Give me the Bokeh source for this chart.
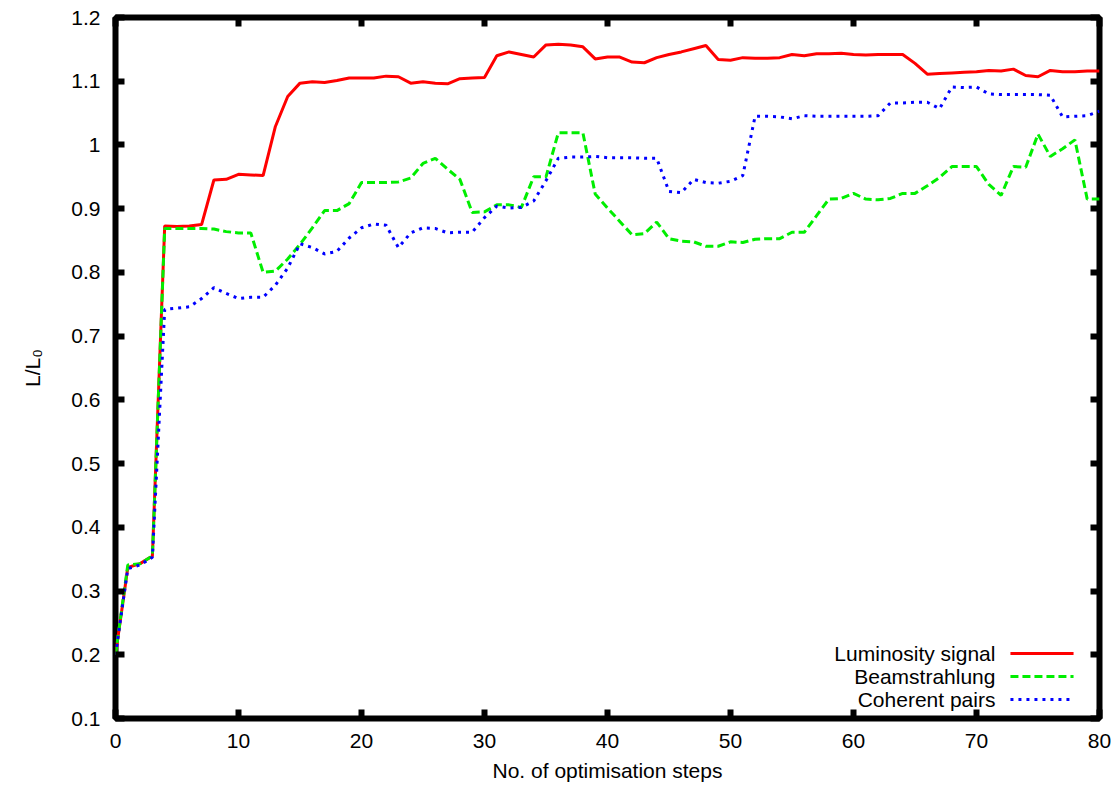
from bokeh.plotting import figure
from bokeh.models import Range1d, FixedTicker, LinearAxis, CustomJSTickFormatter, Label
from bokeh.embed import file_html
from bokeh.resources import INLINE

# ---------------- data ----------------
steps = list(range(81))

luminosity = [0.200, 0.337, 0.343, 0.355, 0.873, 0.872, 0.873, 0.875, 0.945, 0.946,
              0.954, 0.953, 0.952, 1.029, 1.076, 1.097, 1.099, 1.098, 1.101, 1.105,
              1.105, 1.105, 1.108, 1.107, 1.097, 1.099, 1.097, 1.096, 1.104, 1.105,
              1.106, 1.140, 1.146, 1.142, 1.138, 1.157, 1.158, 1.157, 1.154, 1.135,
              1.138, 1.138, 1.130, 1.129, 1.137, 1.142, 1.146, 1.151, 1.156, 1.134,
              1.133, 1.137, 1.136, 1.136, 1.137, 1.142, 1.140, 1.143, 1.143, 1.144,
              1.142, 1.141, 1.142, 1.142, 1.142, 1.128, 1.111, 1.112, 1.113, 1.114,
              1.115, 1.117, 1.116, 1.119, 1.109, 1.107, 1.117, 1.115, 1.115, 1.116,
              1.116]

beamstrahlung = [0.200, 0.341, 0.343, 0.355, 0.869, 0.869, 0.869, 0.869, 0.868, 0.864,
                 0.862, 0.862, 0.800, 0.802, 0.821, 0.844, 0.870, 0.897, 0.897, 0.908,
                 0.941, 0.941, 0.941, 0.942, 0.948, 0.971, 0.979, 0.962, 0.946, 0.894,
                 0.895, 0.906, 0.906, 0.902, 0.950, 0.950, 1.019, 1.019, 1.019, 0.923,
                 0.901, 0.880, 0.859, 0.861, 0.879, 0.853, 0.849, 0.848, 0.841, 0.841,
                 0.848, 0.847, 0.852, 0.853, 0.853, 0.863, 0.863, 0.889, 0.915, 0.916,
                 0.924, 0.915, 0.914, 0.916, 0.924, 0.924, 0.936, 0.949, 0.966, 0.966,
                 0.966, 0.938, 0.921, 0.966, 0.965, 1.017, 0.982, 0.994, 1.008, 0.915,
                 0.915]

coherent = [0.200, 0.335, 0.341, 0.353, 0.742, 0.744, 0.746, 0.759, 0.776, 0.767,
            0.759, 0.761, 0.761, 0.780, 0.807, 0.845, 0.839, 0.829, 0.833, 0.854,
            0.870, 0.876, 0.874, 0.839, 0.862, 0.870, 0.869, 0.862, 0.863, 0.863,
            0.886, 0.904, 0.901, 0.902, 0.912, 0.944, 0.979, 0.981, 0.981, 0.982,
            0.980, 0.980, 0.980, 0.979, 0.979, 0.927, 0.925, 0.946, 0.941, 0.940,
            0.943, 0.952, 1.045, 1.045, 1.044, 1.041, 1.046, 1.045, 1.045, 1.045,
            1.045, 1.045, 1.046, 1.066, 1.066, 1.067, 1.067, 1.057, 1.091, 1.090,
            1.091, 1.080, 1.079, 1.079, 1.079, 1.079, 1.078, 1.044, 1.045, 1.046,
            1.053]

series_names = ["Luminosity signal", "Beamstrahlung", "Coherent pairs"]
x_ticks = [0, 10, 20, 30, 40, 50, 60, 70, 80]
y_ticks = [0.1, 0.2, 0.3, 0.4, 0.5, 0.6, 0.7, 0.8, 0.9, 1.0, 1.1, 1.2]
x_title = "No. of optimisation steps"
y_title = "L/L\u2080"

# ---------------- styling ----------------
FONT = "Liberation Sans"
FS = "21px"
colors = ["#ff0000", "#00ee00", "#0000ff"]
dashes = ["solid", "8 4", "3 5"]

p = figure(width=1118, height=788,
           x_range=Range1d(0, 80), y_range=Range1d(0.1, 1.2),
           output_backend="svg", toolbar_location=None,
           min_border_left=115, min_border_right=19,
           min_border_top=17, min_border_bottom=70)
p.xgrid.visible = False
p.ygrid.visible = False
p.outline_line_color = "black"
p.outline_line_width = 6
p.background_fill_color = "white"
p.border_fill_color = "white"

yfmt = CustomJSTickFormatter(code="return String(Math.round(tick*10)/10);")
blank = CustomJSTickFormatter(code="return '';")


def style_axis(ax, ticks, show):
    ax.ticker = FixedTicker(ticks=ticks)
    ax.axis_line_color = None
    ax.major_tick_in = 9
    ax.major_tick_out = 0
    ax.major_tick_line_width = 6
    ax.major_tick_line_color = "black"
    ax.minor_tick_line_color = None
    ax.major_label_text_font = FONT
    ax.major_label_text_color = "black"
    ax.major_label_text_font_size = FS
    if not show:
        ax.formatter = blank
        ax.major_label_standoff = 0


xa = p.xaxis[0]
style_axis(xa, x_ticks, True)
xa.major_label_standoff = 15
xa.axis_label = x_title
xa.axis_label_text_font = FONT
xa.axis_label_text_font_size = FS
xa.axis_label_text_font_style = "normal"
xa.axis_label_text_color = "black"
xa.axis_label_standoff = 8

ya = p.yaxis[0]
style_axis(ya, y_ticks, True)
ya.formatter = yfmt
ya.major_label_standoff = 15
ya.axis_label = y_title
ya.axis_label_text_font = FONT
ya.axis_label_text_font_size = FS
ya.axis_label_text_font_style = "normal"
ya.axis_label_text_color = "black"
ya.axis_label_standoff = 24

top = LinearAxis()
style_axis(top, x_ticks, False)
p.add_layout(top, "above")
right = LinearAxis()
style_axis(right, y_ticks, False)
p.add_layout(right, "right")

for ys, c, d in zip([luminosity, beamstrahlung, coherent], colors, dashes):
    p.line(steps, ys, line_color=c, line_width=3, line_dash=d)

# ---------------- legend (gnuplot style: text, then sample) ----------------
leg_text_x = 71.54
leg_line_x = [72.76, 77.89]
leg_rows_y = [0.2020, 0.1659, 0.1297]
for name, c, d, ly in zip(series_names, colors, dashes, leg_rows_y):
    p.add_layout(Label(x=leg_text_x, y=ly, text=name, text_align="right",
                       text_baseline="middle", text_font=FONT,
                       text_font_size=FS, text_color="black"))
    p.line(leg_line_x, [ly, ly], line_color=c, line_width=3, line_dash=d)

open("out.html", "w").write(file_html(p, INLINE))
